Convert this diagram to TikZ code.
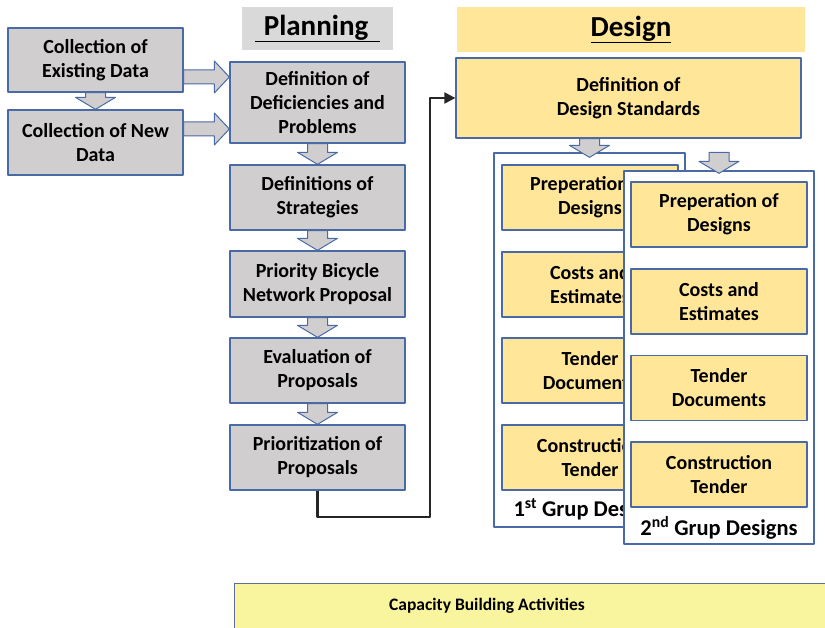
\documentclass[tikz,border=0pt]{standalone}
\usepackage{fontspec}
\setmainfont{Carlito}
\usetikzlibrary{calc,arrows.meta}
\definecolor{vien}{HTML}{4A6AA5}
\definecolor{xam}{HTML}{D0CECE}
\definecolor{xamnhat}{HTML}{D9D9D9}
\definecolor{vang}{HTML}{FFE699}
\definecolor{vangnhat}{HTML}{F9F49E}
%mui ten khoi
\newcommand{\muixuong}[2]{\path[khoi] let \p1=(#1),\p2=(#2) in (\x1-10pt,\y1)--(\x1+10pt,\y1)--(\x1+10pt,\y2+12pt)--(\x1+20pt,\y2+12pt)--(\x1,\y2)--(\x1-20pt,\y2+12pt)--(\x1-10pt,\y2+12pt)--cycle;}
\newcommand{\muiphai}[2]{\path[khoi] let \p1=(#1),\p2=(#2) in (\x1,\y1+7pt)--(\x2-15pt,\y1+7pt)--(\x2-15pt,\y1+16pt)--(\x2,\y1)--(\x2-15pt,\y1-16pt)--(\x2-15pt,\y1-7pt)--(\x1,\y1-7pt)--cycle;}
\begin{document}
\begin{tikzpicture}[x=1pt,y=-1pt,line join=round,
	hop/.style={rectangle,draw=vien,line width=1.3pt,fill=xam,align=center,minimum width=175pt,minimum height=65pt,inner sep=2pt,font=\fontsize{20}{24}\selectfont\bfseries},
	hopv/.style={hop,fill=vang,minimum width=176pt},
	khung/.style={rectangle,draw=vien,line width=1.3pt,fill=white},
	tieude/.style={rectangle,inner sep=0pt,font=\fontsize{29}{32}\selectfont\bfseries},
	nhan/.style={inner sep=0pt,font=\fontsize{22.5}{26}\selectfont\bfseries},
	khoi/.style={draw=vien,line width=1pt,fill=xam},
	noi/.style={draw=black!85,line width=2.2pt,-{Triangle[length=11pt,width=11pt]}}]
	\useasboundingbox (0,0) rectangle (825,628);
	\path(95.5,60)node[hop,minimum height=64pt](a1){Collection of\\Existing Data}%Thu thap
	++(0,82.5)node[hop](a2){Collection of New\\Data}
	;
	\path%Planning
	(317.5,28.5)node[tieude,fill=xamnhat,minimum width=151pt,minimum height=43pt](ph){\underline{\hspace{0.3em}Planning\hspace{0.4em}}}
	(317.5,102.5)node[hop,minimum height=81pt](p1){Definition of\\Deficiencies and\\Problems}
	++(0,95)node[hop](p2){Definitions of\\Strategies}
	++(0,86.5)node[hop,minimum height=66pt](p3){Priority Bicycle\\Network Proposal}
	++(0,86.5)node[hop](p4){Evaluation of\\Proposals}
	++(0,87)node[hop](p5){Prioritization of\\Proposals}
	;
	\path%Design
	(631,29.5)node[tieude,fill=vang,minimum width=348pt,minimum height=45pt](dh){\underline{Design}}
	(628.5,98)node[hop,fill=vang,minimum width=345pt,minimum height=80pt](d0){Definition of\\Design Standards}
	;
	%Nhom 1
	\path(589.5,340)node[khung,minimum width=191pt,minimum height=374pt](f1){};
	\path
	(590,197.5)node[hopv](g1){Preperation of\\Designs}
	++(0,87)node[hopv](g2){Costs and\\Estimates}
	++(0,86)node[hopv](g3){Tender\\Documents}
	++(0,87)node[hopv](g4){Construction\\Tender}
	([yshift=18pt]f1.south)node[nhan](l1){1\textsuperscript{st} Grup Designs}
	;
	%Nhom 2
	\path(719,357.5)node[khung,minimum width=190pt,minimum height=373pt](f2){};
	\path
	(719,214.5)node[hopv](h1){Preperation of\\Designs}
	++(0,87)node[hopv](h2){Costs and\\Estimates}
	++(0,86.5)node[hopv](h3){Tender\\Documents}
	++(0,86.5)node[hopv](h4){Construction\\Tender}
	([yshift=17pt]f2.south)node[nhan](l2){2\textsuperscript{nd} Grup Designs}
	;
	%Capacity
	\path(532,608)node[rectangle,draw=vien!70!gray,line width=1pt,fill=vangnhat,minimum width=596pt,minimum height=50pt](cb){}
	(487,606)node[font=\fontsize{17.5}{20}\selectfont\bfseries](cbt){Capacity Building Activities}
	;
	%Ve
	\muixuong{a1.south}{a2.north}
	\muiphai{[yshift=-17pt]a1.east}{p1.west}
	\muiphai{[yshift=13.5pt]a2.east}{p1.west}
	\muixuong{p1.south}{p2.north}
	\muixuong{p2.south}{p3.north}
	\muixuong{p3.south}{p4.north}
	\muixuong{p4.south}{p5.north}
	\muixuong{d0.south-|f1.north}{[yshift=-5pt]f1.north}
	\muixuong{f1.north-|f2.north}{[yshift=-3pt]f2.north}
	\draw[noi](p5.south)--++(0,26)-|([xshift=-25pt]d0.west)--(d0.west);
\end{tikzpicture}
\end{document}
